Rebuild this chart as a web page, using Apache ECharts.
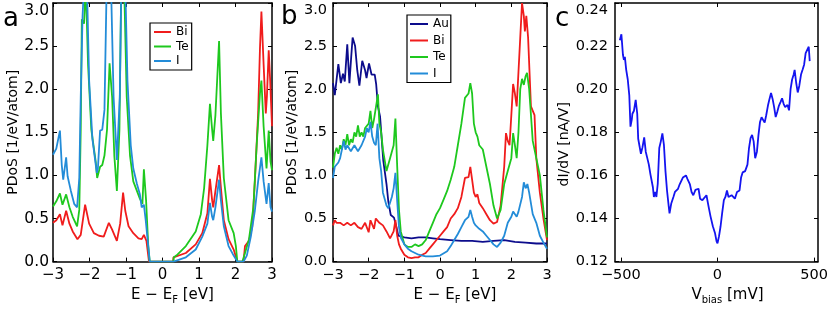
<!DOCTYPE html>
<html><head><meta charset="utf-8">
<script src="https://cdn.jsdelivr.net/npm/echarts@6/dist/echarts.min.js"></script>
<style>html,body{margin:0;padding:0;background:#fff}#c{width:831px;height:310px}</style>
</head><body><div id="c"></div>
<script>
// ---------- Panel a (E - E_F [eV], PDoS) ----------
const aBi = [[-3,0.45],[-2.97,0.46],[-2.91,0.48],[-2.81,0.55],[-2.74,0.42],[-2.64,0.59],[-2.55,0.44],[-2.46,0.35],[-2.33,0.26],[-2.24,0.31],[-2.12,0.66],[-2.01,0.44],[-1.88,0.33],[-1.74,0.3],[-1.61,0.29],[-1.47,0.45],[-1.38,0.37],[-1.25,0.24],[-1.16,0.44],[-1.08,0.8],[-1.02,0.59],[-0.93,0.41],[-0.8,0.33],[-0.66,0.27],[-0.57,0.26],[-0.51,0.31],[-0.44,0.24],[-0.37,0],[0.29,0],[0.3,0.05],[0.64,0.1],[0.91,0.2],[1.09,0.33],[1.23,0.56],[1.3,0.96],[1.36,0.71],[1.39,0.63],[1.45,0.82],[1.5,0.82],[1.55,1.12],[1.6,0.86],[1.68,0.48],[1.81,0.26],[1.95,0.14],[2.05,0],[2.22,0],[2.26,0.18],[2.37,0.24],[2.46,0.41],[2.53,0.93],[2.62,1.72],[2.67,2.47],[2.71,2.9],[2.77,2.29],[2.83,1.72],[2.86,1.91],[2.91,2.45],[2.95,2.1],[3.0,1.57]];
const aTe = [[-3,0.64],[-2.97,0.65],[-2.91,0.7],[-2.81,0.79],[-2.74,0.66],[-2.64,0.78],[-2.55,0.63],[-2.46,0.52],[-2.34,0.41],[-2.28,0.6],[-2.24,1.53],[-2.21,2.81],[-2.15,2.76],[-2.1,3.2],[-2.04,2.29],[-1.95,1.53],[-1.83,1.16],[-1.79,0.97],[-1.71,1.1],[-1.65,1.12],[-1.59,1.23],[-1.52,1.53],[-1.45,2.3],[-1.38,1.91],[-1.32,1.23],[-1.25,0.82],[-1.18,1.53],[-1.13,3.2],[-1.05,3.2],[-0.98,1.91],[-0.89,1.23],[-0.8,0.93],[-0.62,0.73],[-0.55,0.67],[-0.51,1.07],[-0.45,0.71],[-0.39,0.18],[-0.35,0],[0.3,0],[0.31,0.05],[0.38,0.07],[0.64,0.18],[0.91,0.35],[1.05,0.55],[1.14,0.85],[1.23,1.35],[1.3,1.83],[1.36,1.53],[1.39,1.4],[1.45,1.7],[1.5,1.72],[1.55,2.56],[1.6,1.72],[1.68,0.97],[1.81,0.48],[1.95,0.33],[2.01,0.18],[2.05,0],[2.19,0],[2.26,0.1],[2.37,0.26],[2.49,0.63],[2.58,1.35],[2.67,1.95],[2.71,2.1],[2.77,1.57],[2.85,1.08],[2.91,1.52],[2.96,1.16],[3.0,1.06]];
const aI = [[-3,1.24],[-2.97,1.25],[-2.91,1.31],[-2.81,1.52],[-2.76,1.12],[-2.72,0.95],[-2.64,1.21],[-2.6,0.99],[-2.51,0.82],[-2.42,0.67],[-2.34,0.63],[-2.28,0.97],[-2.24,1.91],[-2.19,2.85],[-2.15,3.2],[-2.07,3.2],[-2.01,2.1],[-1.92,1.42],[-1.8,1.03],[-1.77,1.08],[-1.71,1.52],[-1.65,1.53],[-1.59,1.76],[-1.53,3.2],[-1.41,3.2],[-1.34,1.91],[-1.25,1.18],[-1.17,1.91],[-1.13,3.2],[-1.02,3.2],[-0.96,2.1],[-0.87,1.35],[-0.8,1.08],[-0.7,0.9],[-0.62,0.78],[-0.57,0.63],[-0.51,0.66],[-0.46,0.48],[-0.39,0.18],[-0.35,0],[0.3,0],[0.64,0.05],[0.91,0.14],[1.09,0.29],[1.23,0.44],[1.3,0.68],[1.36,0.52],[1.39,0.48],[1.45,0.63],[1.5,0.61],[1.55,0.95],[1.6,0.71],[1.68,0.41],[1.81,0.18],[1.95,0.07],[2.05,0],[2.22,0],[2.31,0.07],[2.42,0.29],[2.53,0.59],[2.62,0.93],[2.71,1.21],[2.77,0.93],[2.85,0.67],[2.91,0.91],[2.96,0.63],[3.0,0.58]];
// ---------- Panel b ----------
const bAu = [[-3,2.07],[-2.95,1.93],[-2.85,2.29],[-2.78,2.07],[-2.72,2.18],[-2.67,2.09],[-2.6,2.52],[-2.54,2.07],[-2.49,2.37],[-2.45,2.6],[-2.38,2.5],[-2.32,2.22],[-2.26,2.04],[-2.18,2.33],[-2.1,2.22],[-2.06,2.13],[-1.99,2.3],[-1.92,2.17],[-1.83,2.17],[-1.79,2.06],[-1.74,1.8],[-1.68,1.68],[-1.59,1.17],[-1.5,0.9],[-1.45,0.7],[-1.38,0.54],[-1.29,0.51],[-1.22,0.4],[-1.17,0.3],[-1.0,0.28],[-0.8,0.27],[-0.6,0.28],[-0.4,0.28],[-0.2,0.27],[0,0.26],[0.3,0.25],[0.6,0.24],[0.9,0.24],[1.2,0.23],[1.5,0.24],[1.8,0.25],[2.1,0.23],[2.4,0.22],[2.7,0.21],[3.0,0.21]];
const bBi = [[-3,0.42],[-2.95,0.48],[-2.9,0.45],[-2.8,0.45],[-2.7,0.42],[-2.6,0.45],[-2.5,0.42],[-2.4,0.45],[-2.3,0.4],[-2.2,0.38],[-2.1,0.45],[-2.0,0.34],[-1.95,0.48],[-1.85,0.38],[-1.8,0.5],[-1.7,0.45],[-1.6,0.42],[-1.5,0.35],[-1.4,0.27],[-1.3,0.35],[-1.25,0.48],[-1.2,0.3],[-1.15,0.2],[-1.1,0.15],[-1.0,0.08],[-0.9,0.05],[-0.8,0.04],[-0.7,0.05],[-0.6,0.05],[-0.5,0.08],[-0.4,0.1],[-0.3,0.15],[-0.2,0.2],[-0.1,0.25],[0,0.3],[0.1,0.35],[0.2,0.4],[0.3,0.5],[0.4,0.55],[0.5,0.62],[0.6,0.75],[0.7,0.97],[0.8,0.98],[0.85,1.1],[0.9,0.95],[0.95,0.8],[1.0,0.75],[1.05,0.78],[1.1,0.68],[1.2,0.62],[1.3,0.55],[1.4,0.48],[1.5,0.44],[1.6,0.46],[1.7,0.65],[1.8,1.1],[1.85,1.49],[1.9,1.4],[1.95,1.35],[2.0,1.7],[2.05,2.06],[2.1,1.95],[2.15,1.8],[2.2,2.2],[2.25,2.6],[2.3,3.0],[2.35,2.85],[2.38,2.67],[2.42,2.85],[2.47,2.6],[2.55,1.8],[2.65,1.7],[2.7,1.2],[2.8,0.8],[2.9,0.5],[3.0,0.25]];
const bTe = [[-3,1.09],[-2.95,1.25],[-2.9,1.32],[-2.85,1.25],[-2.8,1.35],[-2.75,1.3],[-2.7,1.42],[-2.65,1.35],[-2.6,1.48],[-2.55,1.35],[-2.5,1.42],[-2.45,1.38],[-2.4,1.5],[-2.35,1.45],[-2.3,1.58],[-2.25,1.45],[-2.2,1.5],[-2.15,1.45],[-2.1,1.55],[-2.0,1.6],[-1.95,1.75],[-1.9,1.55],[-1.85,1.65],[-1.74,1.94],[-1.7,1.6],[-1.65,1.5],[-1.6,1.3],[-1.5,1.05],[-1.45,1.05],[-1.4,1.2],[-1.35,1.2],[-1.3,1.35],[-1.25,1.66],[-1.2,1.1],[-1.15,0.6],[-1.1,0.35],[-1.0,0.2],[-0.9,0.17],[-0.8,0.17],[-0.7,0.2],[-0.6,0.18],[-0.5,0.2],[-0.4,0.25],[-0.3,0.35],[-0.2,0.45],[-0.1,0.55],[0,0.62],[0.1,0.72],[0.2,0.82],[0.3,0.95],[0.4,1.1],[0.5,1.35],[0.6,1.6],[0.7,1.9],[0.75,1.88],[0.8,1.95],[0.85,2.07],[0.9,1.95],[0.95,1.6],[1.0,1.5],[1.05,1.45],[1.1,1.35],[1.2,1.3],[1.3,1.1],[1.4,0.9],[1.5,0.65],[1.6,0.5],[1.65,0.48],[1.7,0.6],[1.8,0.9],[1.9,1.05],[2.0,1.2],[2.05,1.49],[2.1,1.35],[2.15,1.2],[2.2,1.5],[2.25,2.0],[2.3,2.12],[2.35,2.05],[2.4,2.15],[2.44,2.19],[2.5,2.0],[2.55,1.7],[2.6,1.4],[2.7,1.2],[2.8,1.0],[2.9,0.6],[3.0,0.28]];
const bI = [[-3,0.97],[-2.95,1.1],[-2.9,1.08],[-2.85,1.15],[-2.8,1.2],[-2.75,1.3],[-2.7,1.4],[-2.65,1.3],[-2.6,1.35],[-2.5,1.28],[-2.4,1.35],[-2.3,1.28],[-2.2,1.35],[-2.1,1.45],[-2.05,1.55],[-2.0,1.5],[-1.95,1.62],[-1.9,1.45],[-1.85,1.38],[-1.8,1.35],[-1.75,1.6],[-1.7,1.2],[-1.65,1.05],[-1.6,0.8],[-1.5,0.65],[-1.45,0.62],[-1.4,0.6],[-1.35,0.75],[-1.3,0.85],[-1.25,1.03],[-1.2,0.7],[-1.15,0.4],[-1.1,0.28],[-1.0,0.2],[-0.9,0.15],[-0.8,0.12],[-0.7,0.1],[-0.6,0.08],[-0.4,0.06],[-0.2,0.06],[0,0.07],[0.2,0.12],[0.3,0.18],[0.4,0.25],[0.5,0.32],[0.6,0.4],[0.7,0.48],[0.8,0.52],[0.85,0.6],[0.9,0.52],[0.95,0.45],[1.0,0.42],[1.1,0.38],[1.2,0.35],[1.3,0.3],[1.4,0.25],[1.5,0.2],[1.6,0.17],[1.7,0.22],[1.8,0.3],[1.9,0.45],[2.0,0.52],[2.05,0.58],[2.1,0.6],[2.15,0.52],[2.2,0.58],[2.3,0.75],[2.35,0.92],[2.4,0.85],[2.45,0.9],[2.5,0.8],[2.6,0.55],[2.7,0.45],[2.8,0.3],[2.9,0.22],[3.0,0.15]];
// ---------- Panel c (V_bias [mV], dI/dV [nA/V]) ----------
const cDidv = [[-505,0.2227],[-497,0.2255],[-489,0.216],[-484,0.2136],[-479,0.215],[-472,0.209],[-464,0.2045],[-456,0.197],[-450,0.1826],[-443,0.186],[-440,0.1886],[-432,0.190],[-423,0.195],[-415,0.1886],[-410,0.177],[-404,0.174],[-396,0.170],[-388,0.173],[-379,0.1776],[-371,0.171],[-363,0.168],[-355,0.165],[-347,0.1606],[-340,0.1614],[-334,0.1545],[-329,0.150],[-322,0.1523],[-316,0.150],[-309,0.156],[-301,0.1727],[-293,0.1758],[-285,0.1795],[-277,0.1742],[-269,0.162],[-261,0.153],[-252,0.1455],[-248,0.1424],[-239,0.147],[-228,0.150],[-220,0.1523],[-212,0.1515],[-204,0.1538],[-195,0.156],[-179,0.159],[-163,0.160],[-155,0.1583],[-143,0.156],[-134,0.1523],[-125,0.1508],[-114,0.1533],[-98,0.1538],[-90,0.1492],[-78,0.1485],[-68,0.1492],[-57,0.1508],[-46,0.1455],[-36,0.141],[-24,0.1364],[-13,0.1333],[-5,0.1295],[0,0.1285],[8,0.1318],[16,0.1364],[24,0.1424],[33,0.1485],[41,0.150],[49,0.153],[57,0.150],[73,0.1508],[90,0.1492],[101,0.1523],[114,0.153],[122,0.159],[130,0.1614],[143,0.162],[155,0.165],[163,0.1727],[171,0.1773],[179,0.1788],[187,0.1758],[195,0.168],[204,0.171],[212,0.1788],[220,0.1848],[228,0.187],[236,0.1876],[244,0.1845],[252,0.1879],[261,0.1924],[269,0.1955],[277,0.1982],[285,0.1955],[293,0.1917],[301,0.1871],[309,0.1894],[318,0.1924],[326,0.194],[334,0.1958],[342,0.1932],[350,0.1917],[362,0.1927],[370,0.1902],[378,0.200],[386,0.2045],[394,0.2068],[399,0.209],[407,0.203],[415,0.1985],[423,0.2015],[432,0.2068],[440,0.209],[448,0.2114],[456,0.2167],[464,0.2174],[472,0.2197],[477,0.213]];
const cXTicks = [-500, 0, 500];

const FONT = 'DejaVu Sans';
const C = {Au:'#0c0c8c', Bi:'#f01c1c', Te:'#1ec81e', I:'#238cd8', c:'#1414f0'};

const chart = echarts.init(document.getElementById('c'), null, {renderer:'canvas'});
const minus = s => String(s).replace('-', '\u2212');
const tickStyle = {show:true, inside:true, length:4, lineStyle:{color:'#000', width:1}};
const lineAx = {show:true, onZero:false, lineStyle:{color:'#000', width:1.5}};
const richName = {
  m:{fontFamily:FONT, fontSize:15, color:'#000', lineHeight:20},
  s:{fontFamily:FONT, fontSize:10, color:'#000', lineHeight:2, verticalAlign:'bottom'}
};
function xPair(grid, min, max, interval, nameStr, padL, fs, custom) {
  const base = {type:'value', gridIndex:grid, min, max, interval, splitLine:{show:false}, axisLine:lineAx,
    axisTick:Object.assign({}, tickStyle, custom ? {customValues:custom} : {})};
  const lab = {color:'#000', fontFamily:FONT, fontSize:fs, margin:6, formatter:minus};
  if (custom) lab.customValues = custom;
  return [
    Object.assign({}, base, {position:'bottom', axisLabel:lab,
      name:nameStr, nameLocation:'middle', nameGap:19,
      nameTextStyle:{rich:richName, padding:[0,0,0,padL]}}),
    Object.assign({}, base, {position:'top', axisLabel:{show:false}})
  ];
}
function yPair(grid, min, max, interval, dec, nameStr, gap, margin, fs, pad) {
  const base = {type:'value', gridIndex:grid, min, max, interval, splitLine:{show:false}, axisLine:lineAx, axisTick:tickStyle};
  return [
    Object.assign({}, base, {position:'left',
      axisLabel:{color:'#000', fontFamily:FONT, fontSize:fs, margin, formatter:v=>v.toFixed(dec), verticalAlignMaxLabel:'top'},
      name:nameStr, nameLocation:'middle', nameGap:gap, nameRotate:90,
      nameTextStyle:{fontFamily:FONT, fontSize:14, color:'#000', padding:pad||[0,0,0,0]}}),
    Object.assign({}, base, {position:'right', axisLabel:{show:false}})
  ];
}
const xA = xPair(0, -3, 3, 1, '{m|E \u2212 E}{s|F}{m| [eV]}', 20, 15);
const xB = xPair(1, -3, 3, 1, '{m|E \u2212 E}{s|F}{m| [eV]}', 30, 14.5);
const xC = xPair(2, -530, 520, 500, '{m|V}{s|bias}{m| [mV]}', 22, 14.5, cXTicks);
const yA = yPair(0, 0, 3, 0.5, 1, 'PDoS [1/eV/atom]', 32, 4, 15.5);
const yB = yPair(1, 0, 3, 0.5, 1, 'PDoS [1/eV/atom]', 34, 6, 14.5);
const yC = yPair(2, 0.12, 0.24, 0.02, 2, 'dI/dV [nA/V]', 42, 7, 14.5, [0,24,0,0]);

function ser(name, data, xi, yi, color, w) {
  return {type:'line', name, data, xAxisIndex:xi, yAxisIndex:yi, showSymbol:false, symbol:'none',
    lineStyle:{color, width:w||1.8}, itemStyle:{color}, clip:true, animation:false, silent:true};
}
const legendBase = {orient:'vertical', icon:'rect', itemHeight:2, borderColor:'#000', borderWidth:1.2,
  backgroundColor:'#fff', textStyle:{fontFamily:FONT, fontSize:12, color:'#000'}, selectedMode:false};

chart.setOption({
  animation:false,
  backgroundColor:'#fff',
  grid:[
    {left:53, top:3, width:219, height:264},
    {left:333, top:3, width:214, height:264},
    {left:615, top:3, width:215, height:263}
  ],
  xAxis:[...xA, ...xB, ...xC],
  yAxis:[...yA, ...yB, ...yC],
  legend:[
    Object.assign({}, legendBase, {left:150, top:23, padding:[3,3,3,4], itemWidth:17, itemGap:2.5, data:['Bi','Te','I']}),
    Object.assign({}, legendBase, {left:407, top:15, padding:[3,2,3,3], itemWidth:18, itemGap:4.5, data:['Au','Bi','Te','I']})
  ],
  graphic:[
    {type:'text', left:3, top:6, style:{text:'a', fontFamily:FONT, fontSize:26, fill:'#000'}},
    {type:'text', left:281, top:4, style:{text:'b', fontFamily:FONT, fontSize:26, fill:'#000'}},
    {type:'text', left:555, top:6, style:{text:'c', fontFamily:FONT, fontSize:26, fill:'#000'}}
  ],
  series:[
    ser('Bi', aBi, 0, 0, C.Bi), ser('Te', aTe, 0, 0, C.Te), ser('I', aI, 0, 0, C.I),
    ser('Au', bAu, 2, 2, C.Au), ser('Bi', bBi, 2, 2, C.Bi), ser('Te', bTe, 2, 2, C.Te), ser('I', bI, 2, 2, C.I),
    ser('dIdV', cDidv, 4, 4, C.c, 1.8)
  ]
});
</script></body></html>
